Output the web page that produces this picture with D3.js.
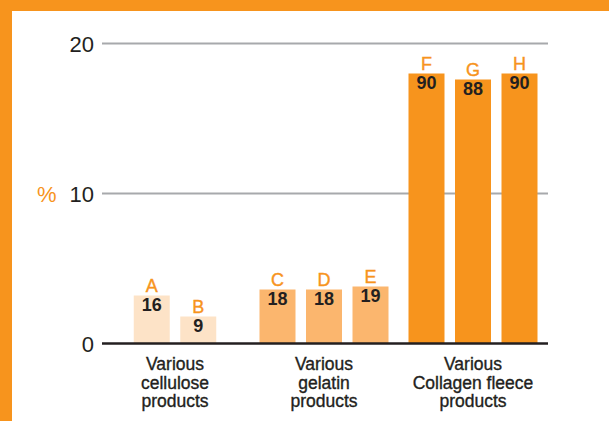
<!DOCTYPE html>
<html>
<head>
<meta charset="utf-8">
<script src="https://cdn.jsdelivr.net/npm/d3@7"></script>
<style>
  html, body { margin: 0; padding: 0; background: #fff; }
  svg { display: block; }
</style>
</head>
<body>
<div id="chart"></div>
<script>
// data
const groups = ["cellulose", "gelatin", "collagen"]
const groupLabels = [
    ["Various", "cellulose", "products"],
    ["Various", "gelatin", "products"],
    ["Various", "Collagen fleece", "products"]
]
const letters = ["A", "B", "C", "D", "E", "F", "G", "H"]
const barGroup = ["cellulose", "cellulose", "gelatin", "gelatin", "gelatin", "collagen", "collagen", "collagen"]
const values = [3.2, 1.8, 3.6, 3.6, 3.8, 18.0, 17.6, 18.0]
const valueLabels = ["16", "9", "18", "18", "19", "90", "88", "90"]
const yTicks = [0, 10, 20]

const groupColor = {cellulose: "#fde3c7", gelatin: "#fbb66e", collagen: "#f7941d"}

const width = 609, height = 421
const svg = d3.select("#chart").append("svg")
    .attr("width", width)
    .attr("height", height)

// orange frame (top + left)
svg.append("rect").attr("x", 0).attr("y", 0).attr("width", width).attr("height", 11).attr("fill", "#f7941d")
svg.append("rect").attr("x", 0).attr("y", 0).attr("width", 12).attr("height", height).attr("fill", "#f7941d")

const y = d3.scaleLinear().domain([0, 20]).range([343.5, 43.5])
const x = d3.scaleBand().domain(groups).range([100.5, 547.5]).padding(0)

const step = 46.5, barW = 36

// position of each bar inside its group
function barCenter(i) {
    const g = barGroup[i]
    const members = barGroup.map((d, j) => d === g ? j : -1).filter(j => j >= 0)
    const k = members.indexOf(i)
    return x(g) + x.bandwidth() / 2 + (k - (members.length - 1) / 2) * step
}

// gridlines
svg.append("g")
    .selectAll("line")
    .data(yTicks.filter(t => t > 0))
    .join("line")
    .attr("x1", 102).attr("x2", 548)
    .attr("y1", d => y(d)).attr("y2", d => y(d))
    .attr("stroke", "#a7a9ac")
    .attr("stroke-width", 2)

// tick labels
svg.append("g")
    .style("font", "22px 'Liberation Sans', Arial, sans-serif")
    .attr("fill", "#231f20")
    .attr("text-anchor", "end")
    .selectAll("text")
    .data(yTicks)
    .join("text")
    .attr("x", 94)
    .attr("y", d => y(d) + 8)
    .text(d => d)

svg.append("text")
    .attr("x", 37).attr("y", y(10) + 8)
    .style("font", "22px 'Liberation Sans', Arial, sans-serif")
    .attr("fill", "#f7941d")
    .text("%")

// bars
svg.append("g")
    .selectAll("rect")
    .data(values)
    .join("rect")
    .attr("x", (d, i) => barCenter(i) - barW / 2)
    .attr("width", barW)
    .attr("y", d => y(d))
    .attr("height", d => y(0) - y(d))
    .attr("fill", (d, i) => groupColor[barGroup[i]])

// letters above bars
svg.append("g")
    .style("font", "18px 'Liberation Sans', Arial, sans-serif")
    .attr("fill", "#f7941d")
    .attr("stroke", "#f7941d")
    .attr("stroke-width", 0.4)
    .attr("text-anchor", "middle")
    .selectAll("text")
    .data(values)
    .join("text")
    .attr("x", (d, i) => barCenter(i))
    .attr("y", d => y(d) - 4)
    .text((d, i) => letters[i])

// numbers inside bars
svg.append("g")
    .style("font", "bold 18px 'Liberation Sans', Arial, sans-serif")
    .attr("fill", "#231f20")
    .attr("text-anchor", "middle")
    .selectAll("text")
    .data(values)
    .join("text")
    .attr("x", (d, i) => barCenter(i))
    .attr("y", d => y(d) + 15)
    .text((d, i) => valueLabels[i])

// zero line
svg.append("line")
    .attr("x1", 102).attr("x2", 548)
    .attr("y1", y(0)).attr("y2", y(0))
    .attr("stroke", "#231f20")
    .attr("stroke-width", 2.5)

// group labels
const gl = svg.append("g")
    .style("font", "17.5px 'Liberation Sans', Arial, sans-serif")
    .attr("fill", "#231f20")
    .attr("stroke", "#231f20")
    .attr("stroke-width", 0.35)
    .attr("text-anchor", "middle")
groups.forEach((g, gi) => {
    groupLabels[gi].forEach((line, li) => {
        gl.append("text")
            .attr("x", x(g) + x.bandwidth() / 2)
            .attr("y", 370 + li * 18.5)
            .text(line)
    })
})
</script>
</body>
</html>
